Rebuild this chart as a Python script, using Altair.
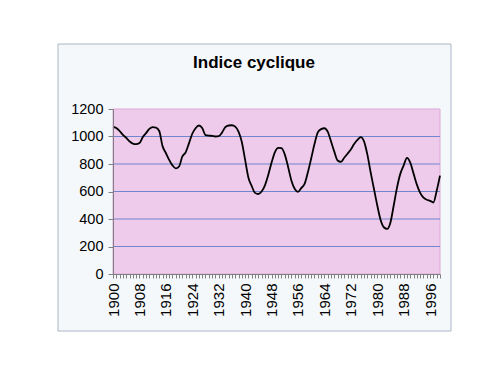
import altair as alt
import pandas as pd

# ---- data ----
years = list(range(1900, 2000))
values = [
    1070, 1062, 1040, 1012, 990, 965, 948, 944, 952, 995,      # 1900s
    1025, 1055, 1068, 1065, 1040, 930, 880, 830, 790, 768,     # 1910s
    782, 855, 885, 950, 1020, 1060, 1080, 1062, 1010, 1006,    # 1920s
    1005, 1000, 1002, 1028, 1068, 1080, 1082, 1072, 1035, 960, # 1930s
    830, 700, 640, 590, 582, 600, 645, 720, 810, 885,          # 1940s
    918, 915, 870, 780, 680, 620, 598, 625, 655, 740,          # 1950s
    840, 945, 1030, 1054, 1060, 1035, 965, 890, 825, 815,      # 1960s
    845, 875, 905, 945, 975, 995, 965, 870, 740, 620,          # 1970s
    500, 395, 340, 328, 375, 500, 630, 730, 790, 845,          # 1980s
    810, 730, 650, 590, 555, 540, 532, 520, 605, 715,          # 1990s
]
y_ticks = [0, 200, 400, 600, 800, 1000, 1200]
grid_values = [200, 400, 600, 800, 1000]
x_label_years = [1900, 1908, 1916, 1924, 1932, 1940, 1948, 1956, 1964, 1972, 1980, 1988, 1996]
title_text = "Indice cyclique"

W, H = 327, 165
FONT = "Liberation Sans"

df = pd.DataFrame({"year": years, "value": values})
x_scale = alt.Scale(domain=[1900, 1999], nice=False, zero=False)
y_scale = alt.Scale(domain=[0, 1200], nice=False)

one = pd.DataFrame({"d": [0]})

common_axis = dict(
    grid=False,
    domainColor="#808080",
    tickColor="#808080",
    labelFont=FONT,
    labelColor="black",
    zindex=2,
    title=None,
)
y_axis = alt.Axis(values=y_ticks, format="d", tickSize=5, labelPadding=5, labelFontSize=14.5, **common_axis)

label_list = ",".join(str(v) for v in x_label_years)
x_axis = alt.Axis(
    values=years,
    format="d",
    labelExpr=f"indexof([{label_list}], datum.value) >= 0 ? datum.label : ''",
    labelAngle=-90,
    labelOverlap=False,
    labelFlush=False,
    tickSize=4,
    labelPadding=5,
    labelFontSize=15,
    **common_axis,
)

frame = alt.Chart(one).mark_rect(fill="#f4f8fb", stroke="#aab6c4", strokeWidth=1).encode(
    x=alt.value(-55), x2=alt.value(338), y=alt.value(-65), y2=alt.value(222)
)

plot_bg = alt.Chart(one).mark_rect(fill="#eecaeb", stroke="#dea8d8", strokeWidth=1).encode(
    x=alt.value(0), x2=alt.value(W), y=alt.value(0), y2=alt.value(H)
)

grid = alt.Chart(pd.DataFrame({"g": grid_values})).mark_rule(color="#6f86cc", strokeWidth=1).encode(
    y=alt.Y("g:Q", scale=y_scale, axis=y_axis)
)

line = alt.Chart(df).mark_line(color="black", strokeWidth=1.8, interpolate="monotone").encode(
    x=alt.X("year:Q", scale=x_scale, axis=x_axis),
    y=alt.Y("value:Q", scale=y_scale, axis=y_axis),
)

title = alt.Chart(pd.DataFrame({"t": [title_text]})).mark_text(
    font=FONT, fontSize=17, fontWeight="bold", color="black", align="center", baseline="alphabetic"
).encode(text="t:N", x=alt.value(141), y=alt.value(-41))

chart = (
    alt.layer(frame, plot_bg, grid, line, title)
    .properties(
        width=W,
        height=H,
        padding={"left": 105, "top": 101, "right": 50, "bottom": 70},
        autosize="none",
        background="white",
    )
    .configure_view(stroke=None)
)

chart.save("out.html", embed_options={"renderer": "svg", "actions": False})
